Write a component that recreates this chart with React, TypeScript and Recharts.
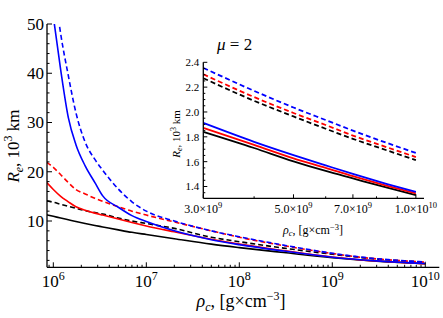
import { LineChart, Line, XAxis, YAxis } from "recharts";

// central density, g/cm^3
const densities = [
  8.5e5, 1e6, 1.2e6, 1.45e6, 1.75e6, 2.2e6, 2.8e6, 3.4e6, 5e6, 7e6, 1e7, 2e7,
  5e7, 1e8, 3e8, 1e9, 3e9, 4e9, 5e9, 6e9, 7e9, 8.5e9, 1e10,
];

// radius, 10^3 km
const blueSolid = [
  62, 51.5, 40.7, 31, 25.5, 21.2, 17.8, 15.1, 12.8, 11.1, 9.9, 8.0, 6.2, 5.2,
  3.9, 2.65, 1.912, 1.76, 1.653, 1.57, 1.501, 1.42, 1.357,
];
const blueDashed = [
  72, 59, 48, 39.5, 32, 26, 22.5, 20.3, 16.5, 13.9, 12.0, 10.0, 8.0, 6.8, 5.1,
  3.45, 2.355, 2.17, 2.036, 1.935, 1.85, 1.75, 1.67,
];
const redSolid = [
  17.8, 16.4, 15.0, 13.9, 12.9, 12.2, 11.6, 11.2, 10.4, 9.7, 9.0, 7.8, 6.3, 5.3,
  4.0, 2.7, 1.872, 1.735, 1.627, 1.55, 1.483, 1.405, 1.344,
];
const redDashed = [
  21.9, 20.9, 19.4, 17.8, 16.4, 15.5, 14.6, 14.0, 12.9, 12.0, 11.2, 9.8, 8.0,
  6.7, 5.0, 3.4, 2.304, 2.12, 1.992, 1.895, 1.81, 1.715, 1.637,
];
const blackSolid = [
  11.25, 10.95, 10.6, 10.25, 9.9, 9.5, 9.1, 8.8, 8.2, 7.7, 7.25, 6.4, 5.3, 4.6,
  3.6, 2.55, 1.84, 1.71, 1.603, 1.525, 1.465, 1.39, 1.33,
];
const blackDashed = [
  14.1, 13.8, 13.4, 13.0, 12.6, 12.1, 11.7, 11.4, 10.6, 10.0, 9.5, 8.5, 6.7,
  5.8, 4.5, 3.25, 2.272, 2.09, 1.964, 1.865, 1.784, 1.69, 1.613,
];

const mainXTicks = [
  9e5, 1e6, 2e6, 3e6, 4e6, 5e6, 6e6, 7e6, 8e6, 9e6, 1e7, 2e7, 3e7, 4e7, 5e7,
  6e7, 7e7, 8e7, 9e7, 1e8, 2e8, 3e8, 4e8, 5e8, 6e8, 7e8, 8e8, 9e8, 1e9, 2e9,
  3e9, 4e9, 5e9, 6e9, 7e9, 8e9, 9e9, 1e10,
];
const mainYTicks = [
  2, 4, 6, 8, 10, 12, 14, 16, 18, 20, 22, 24, 26, 28, 30, 32, 34, 36, 38, 40,
  42, 44, 46, 48, 50,
];
const insetXTicks = [3e9, 4e9, 5e9, 6e9, 7e9, 8e9, 9e9, 1e10];
const insetXLabels = ["3.0", "", "5.0", "", "7.0", "", "", "1.0"];
const insetYTicks = [
  1.35, 1.4, 1.45, 1.5, 1.55, 1.6, 1.65, 1.7, 1.75, 1.8, 1.85, 1.9, 1.95, 2.0,
  2.05, 2.1, 2.15, 2.2, 2.25, 2.3, 2.35, 2.4,
];

const series = [
  { key: "blackSolid", color: "#000000", dash: undefined },
  { key: "blackDashed", color: "#000000", dash: "5 3" },
  { key: "redSolid", color: "#ff0000", dash: undefined },
  { key: "redDashed", color: "#ff0000", dash: "5 3" },
  { key: "blueSolid", color: "#0000ff", dash: undefined },
  { key: "blueDashed", color: "#0000ff", dash: "5 3" },
];

const rows = densities.map((rho, i) => ({
  rho,
  blueSolid: blueSolid[i],
  blueDashed: blueDashed[i],
  redSolid: redSolid[i],
  redDashed: redDashed[i],
  blackSolid: blackSolid[i],
  blackDashed: blackDashed[i],
}));
const insetRows = rows.filter((r) => r.rho >= 3e9);

const FONT = '"Liberation Serif", "Times New Roman", serif';

// main frame, px
const L = 47;
const T = 24;
const R = 439.3;
const B = 267.3;

const isMajorLog = (v: number) => {
  const e = Math.log10(v);
  return Math.abs(e - Math.round(e)) < 1e-6;
};

const MainBottomTick = (props: any) => {
  const { x, payload } = props;
  const v = payload.value;
  const major = isMajorLog(v);
  return (
    <g>
      <line x1={x} x2={x} y1={B} y2={B - (major ? 5 : 2.5)} stroke="#000" />
      {major && (
        <text x={x} y={B + 20} textAnchor="middle" fontFamily={FONT} fontSize={17}>
          10
          <tspan dy={-7} fontSize={12}>
            {Math.round(Math.log10(v))}
          </tspan>
        </text>
      )}
    </g>
  );
};

const MainTopTick = (props: any) => {
  const { x, payload } = props;
  const major = isMajorLog(payload.value);
  return <line x1={x} x2={x} y1={T} y2={T + (major ? 5 : 2.5)} stroke="#000" />;
};

const MainLeftTick = (props: any) => {
  const { y, payload } = props;
  const v = payload.value;
  const major = v % 10 === 0;
  return (
    <g>
      <line x1={L} x2={L + (major ? 5 : 2.5)} y1={y} y2={y} stroke="#000" />
      {major && (
        <text x={L - 3} y={y} dy="0.35em" textAnchor="end" fontFamily={FONT} fontSize={17}>
          {v}
        </text>
      )}
    </g>
  );
};

const MainRightTick = (props: any) => {
  const { y, payload } = props;
  const major = payload.value % 10 === 0;
  return <line x1={R} x2={R - (major ? 5 : 2.5)} y1={y} y2={y} stroke="#000" />;
};

// inset frame, in inset svg coords
const IX = 150;
const IY = 30;
const iL = 203.3 - IX;
const iT = 62.3 - IY;
const iR = 424 - IX;
const iB = 198.3 - IY;

const InsetBottomTick = (props: any) => {
  const { x, payload, index } = props;
  const label = insetXLabels[index];
  const major = label !== "";
  return (
    <g>
      <line x1={x} x2={x} y1={iB} y2={iB - (major ? 4 : 2)} stroke="#000" />
      {major && (
        <text x={x} y={iB + 15} textAnchor="middle" fontFamily={FONT} fontSize={12}>
          {label}×10
          <tspan dy={-5} fontSize={8.5}>
            {payload.value >= 1e10 ? 10 : 9}
          </tspan>
        </text>
      )}
    </g>
  );
};

const InsetTopTick = (props: any) => {
  const { x, index } = props;
  const major = insetXLabels[index] !== "";
  return <line x1={x} x2={x} y1={iT} y2={iT + (major ? 4 : 2)} stroke="#000" />;
};

const InsetLeftTick = (props: any) => {
  const { y, payload } = props;
  const v = payload.value;
  const major = Math.abs(v * 5 - Math.round(v * 5)) < 1e-6;
  return (
    <g>
      <line x1={iL} x2={iL + (major ? 4 : 2)} y1={y} y2={y} stroke="#000" />
      {major && (
        <text x={iL - 4} y={y} dy="0.35em" textAnchor="end" fontFamily={FONT} fontSize={11}>
          {v.toFixed(1)}
        </text>
      )}
    </g>
  );
};

const InsetRightTick = (props: any) => {
  const { y, payload } = props;
  const v = payload.value;
  const major = Math.abs(v * 5 - Math.round(v * 5)) < 1e-6;
  return <line x1={iR} x2={iR - (major ? 4 : 2)} y1={y} y2={y} stroke="#000" />;
};

const frameLine = { stroke: "#000", strokeWidth: 1.3 };

const App = () => (
  <div style={{ position: "absolute", left: 0, top: 0, width: 443, height: 318, background: "#fff" }}>
    <LineChart
      width={443}
      height={318}
      data={rows}
      margin={{ top: T, left: L - 40, right: 443 - R, bottom: 318 - B - 30 }}
    >
      <XAxis
        dataKey="rho"
        type="number"
        scale="log"
        domain={[8.55e5, 1.415e10]}
        allowDataOverflow
        ticks={mainXTicks}
        interval={0}
        tick={MainBottomTick}
        tickLine={false}
        axisLine={frameLine}
        height={30}
      />
      <XAxis
        xAxisId="top"
        orientation="top"
        dataKey="rho"
        type="number"
        scale="log"
        domain={[8.55e5, 1.415e10]}
        allowDataOverflow
        ticks={mainXTicks}
        interval={0}
        tick={MainTopTick}
        tickLine={false}
        axisLine={frameLine}
        height={0}
      />
      <YAxis
        type="number"
        domain={[0.6, 50]}
        allowDataOverflow
        ticks={mainYTicks}
        interval={0}
        tick={MainLeftTick}
        tickLine={false}
        axisLine={frameLine}
        width={40}
      />
      <YAxis
        yAxisId="right"
        orientation="right"
        type="number"
        domain={[0.6, 50]}
        allowDataOverflow
        ticks={mainYTicks}
        interval={0}
        tick={MainRightTick}
        tickLine={false}
        axisLine={frameLine}
        width={0}
      />
      {series.map((s) => (
        <Line
          key={s.key}
          dataKey={s.key}
          type="monotone"
          stroke={s.color}
          strokeWidth={1.6}
          strokeDasharray={s.dash}
          dot={false}
          isAnimationActive={false}
        />
      ))}
      <text
        transform="translate(19, 146) rotate(-90)"
        textAnchor="middle"
        fontFamily={FONT}
        fontSize={17}
      >
        <tspan fontStyle="italic">R</tspan>
        <tspan fontStyle="italic" fontSize={12} dy={4}>e</tspan>
        <tspan dy={-4}>, 10</tspan>
        <tspan fontSize={12} dy={-7}>3</tspan>
        <tspan dy={7}> km</tspan>
      </text>
      <text x={241} y={307} textAnchor="middle" fontFamily={FONT} fontSize={18}>
        <tspan fontStyle="italic">ρ</tspan>
        <tspan fontStyle="italic" fontSize={12} dy={4}>c</tspan>
        <tspan dy={-4}>, [g×cm</tspan>
        <tspan fontSize={12} dy={-7}>−3</tspan>
        <tspan dy={7}>]</tspan>
      </text>
      <text x={217} y={50} fontFamily={FONT} fontSize={17}>
        <tspan fontStyle="italic">μ</tspan> = 2
      </text>
    </LineChart>

    <div style={{ position: "absolute", left: IX, top: IY }}>
      <LineChart
        width={290}
        height={210}
        data={insetRows}
        margin={{ top: iT, left: iL - 30, right: 290 - iR, bottom: 210 - iB - 20 }}
      >
        <XAxis
          dataKey="rho"
          type="number"
          scale="log"
          domain={[3e9, 1.047e10]}
          allowDataOverflow
          ticks={insetXTicks}
          interval={0}
          tick={InsetBottomTick}
          tickLine={false}
          axisLine={frameLine}
          height={20}
        />
        <XAxis
          xAxisId="top"
          orientation="top"
          dataKey="rho"
          type="number"
          scale="log"
          domain={[3e9, 1.047e10]}
          allowDataOverflow
          ticks={insetXTicks}
          interval={0}
          tick={InsetTopTick}
          tickLine={false}
          axisLine={frameLine}
          height={0}
        />
        <YAxis
          type="number"
          domain={[1.305, 2.4]}
          allowDataOverflow
          ticks={insetYTicks}
          interval={0}
          tick={InsetLeftTick}
          tickLine={false}
          axisLine={frameLine}
          width={30}
        />
        <YAxis
          yAxisId="right"
          orientation="right"
          type="number"
          domain={[1.305, 2.4]}
          allowDataOverflow
          ticks={insetYTicks}
          interval={0}
          tick={InsetRightTick}
          tickLine={false}
          axisLine={frameLine}
          width={0}
        />
        {series.map((s) => (
          <Line
            key={s.key}
            dataKey={s.key}
            type="monotone"
            stroke={s.color}
            strokeWidth={1.8}
            strokeDasharray={s.dash}
            dot={false}
            isAnimationActive={false}
          />
        ))}
        <text
          transform={`translate(${180 - IX}, ${134 - IY}) rotate(-90)`}
          textAnchor="middle"
          fontFamily={FONT}
          fontSize={11}
        >
          <tspan fontStyle="italic">R</tspan>
          <tspan fontStyle="italic" fontSize={8} dy={2}>e</tspan>
          <tspan dy={-2}>, 10</tspan>
          <tspan fontSize={8} dy={-4}>3</tspan>
          <tspan dy={4}> km</tspan>
        </text>
        <text x={313 - IX} y={234 - IY} textAnchor="middle" fontFamily={FONT} fontSize={12}>
          <tspan fontStyle="italic">ρ</tspan>
          <tspan fontStyle="italic" fontSize={8.5} dy={2}>c</tspan>
          <tspan dy={-2}>, [g×cm</tspan>
          <tspan fontSize={8.5} dy={-4}>−3</tspan>
          <tspan dy={4}>]</tspan>
        </text>
      </LineChart>
    </div>
  </div>
);

export default App;
